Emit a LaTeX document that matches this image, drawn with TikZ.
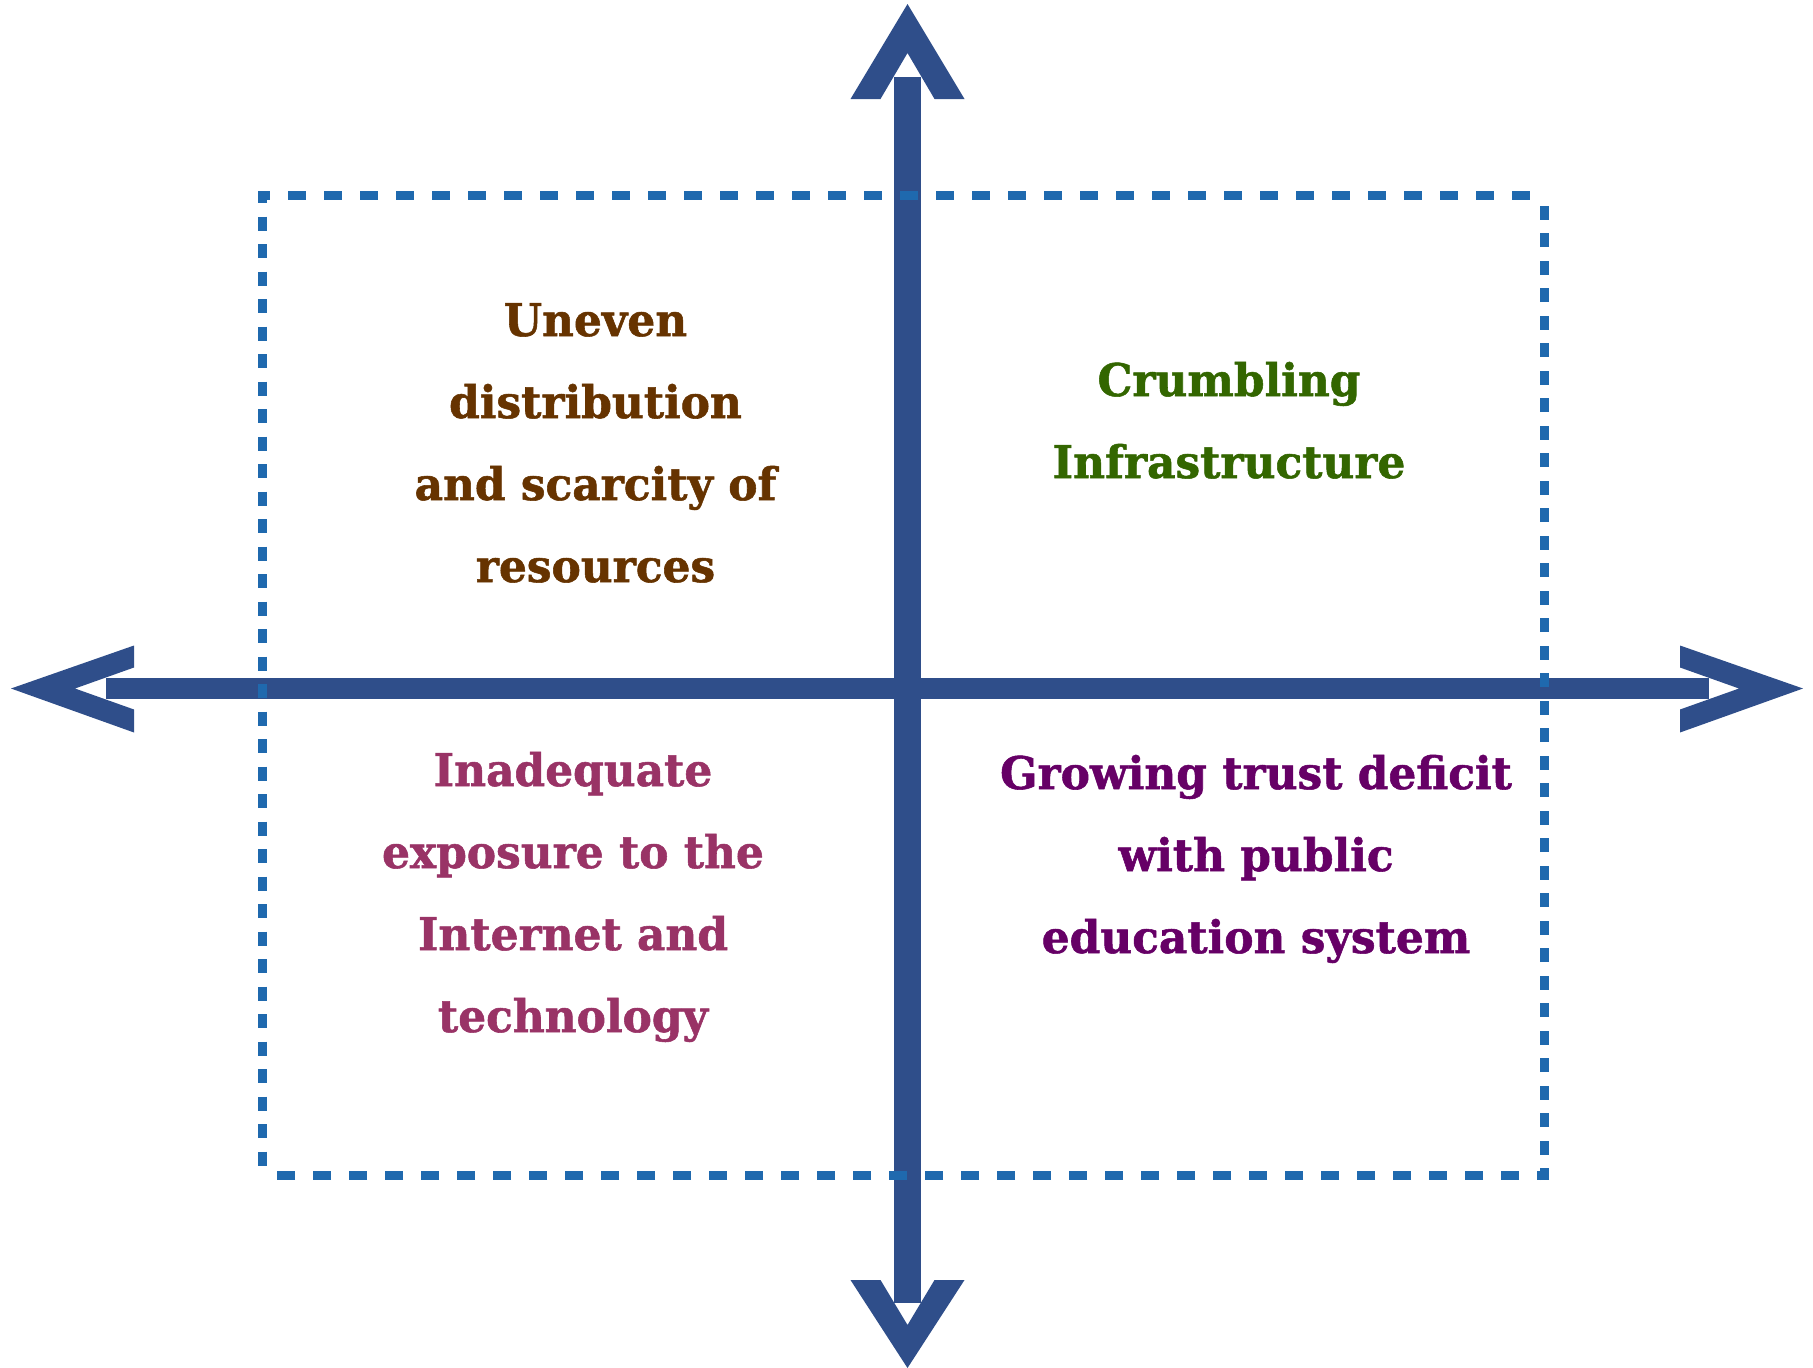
\documentclass[tikz,border=0pt]{standalone}
\usepackage{fontspec}
\setmainfont[FakeStretch=0.975, BoldFeatures={FakeBold=1.2}]{DejaVu Serif}
\usetikzlibrary{positioning}

\definecolor{axisblue}{HTML}{2F4E8A}
\definecolor{boxblue}{HTML}{1F69AE}
\definecolor{brownish}{HTML}{663300}
\definecolor{greenish}{HTML}{336600}
\definecolor{pinkish}{HTML}{993366}
\definecolor{purplish}{HTML}{660066}

\begin{document}
\begin{tikzpicture}[x=1pt, y=-1pt,
    axis/.style = {draw=axisblue},
    head/.style = {fill=axisblue},
    hframe/.style = {draw=boxblue, line width=9pt, dash pattern=on 18pt off 18pt, dash phase=6pt, shorten <=-4.5pt},
    vframe/.style = {draw=boxblue, line width=9pt, dash pattern=on 14pt off 13.5pt, dash phase=2pt, shorten <=-4.5pt},
    issue/.style = {align=center, inner sep=0pt, anchor=base,
                    font=\bfseries\fontsize{45}{82}\selectfont}]
    \useasboundingbox (0,0) rectangle (1813,1368);
    % axis ends
    \coordinate (north) at (907.5,4);
    \coordinate (south) at (907.5,1368);
    \coordinate (west) at (11,688.5);
    \coordinate (east) at (1803,688.5);
    \coordinate (vtop) at (907.5,77);
    \coordinate (vbot) at (907.5,1303);
    \coordinate (hleft) at (106,688.5);
    \coordinate (hright) at (1709,688.5);
    % shafts
    \draw[axis, line width=27pt] (vtop) -- (vbot);
    \draw[axis, line width=21pt] (hleft) -- (hright);
    % heads
    \fill[head] (north) -- ++(57,95) -- ++(-30,0) -- ++(-27,-46) -- ++(-27,46) -- ++(-30,0) -- cycle;
    \fill[head] (south) -- ++(57,-88) -- ++(-30,0) -- ++(-27,45) -- ++(-27,-45) -- ++(-30,0) -- cycle;
    \fill[head] (west) -- ++(123,-43) -- ++(0,22) -- ++(-59,21) -- ++(59,21) -- ++(0,23) -- cycle;
    \fill[head] (east) -- ++(-123,-43) -- ++(0,22) -- ++(59,21) -- ++(-59,21) -- ++(0,23) -- cycle;
    % dashed frame
    \coordinate (tl) at (262.5,195.5);
    \coordinate (tr) at (1544.5,195.5);
    \coordinate (bl) at (262.5,1175.5);
    \coordinate (br) at (1544.5,1175.5);
    \draw[hframe] (tl) -- (tr);
    \draw[vframe] (tl) -- (bl);
    \draw[hframe] (br) -- (bl);
    \draw[vframe] (br) -- (tr);
    % quadrant texts
    \node[issue, text=brownish] (resources) at (595.5,582) {Uneven\\distribution\\and scarcity of\\resources};
    \node[issue, text=greenish] (infra) at (1229,478) {Crumbling\\Infrastructure};
    \node[issue, text=pinkish] (internet) at (573,1032) {Inadequate\\exposure to the\\Internet and\\technology};
    \node[issue, text=purplish] (trust) at (1256,953) {Growing trust deficit\\with public\\education system};
\end{tikzpicture}
\end{document}
